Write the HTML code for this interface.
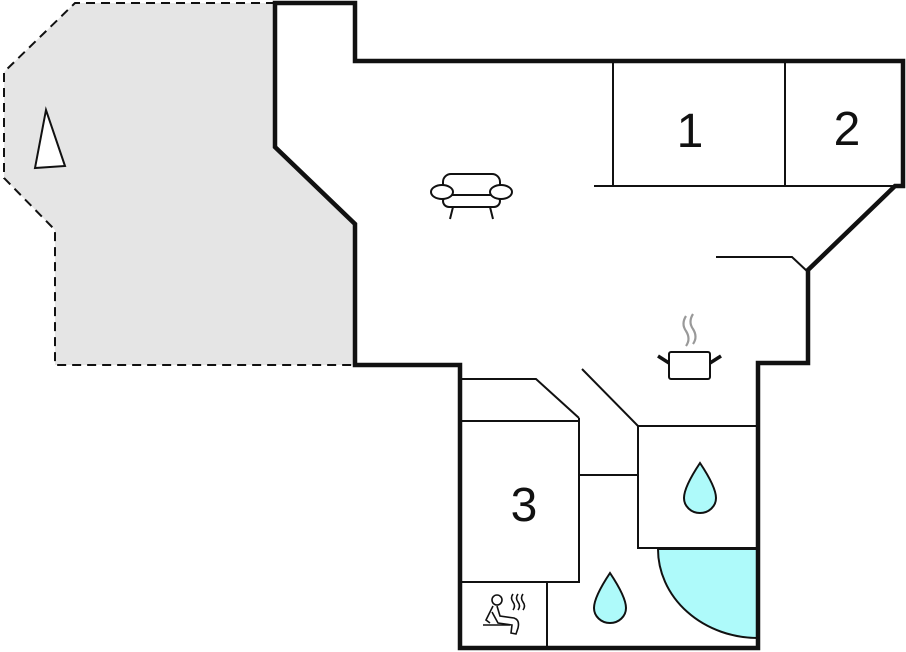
<!DOCTYPE html>
<html><head><meta charset="utf-8"><style>
html,body{margin:0;padding:0;background:#fff;}
svg{display:block;}
text{font-family:"Liberation Sans",sans-serif;fill:#111;}
</style></head><body>
<svg width="906" height="652" viewBox="0 0 906 652" xmlns="http://www.w3.org/2000/svg">
<polygon points="275,3 75,3 4,72 4,178 55,230 55,365 355,365 355,224 275,147" fill="#e5e5e5"/>
<polyline points="275,3 75,3 4,72 4,178 55,230 55,365 355,365" fill="none" stroke="#111" stroke-width="2" stroke-dasharray="9,6"/>
<polygon points="46,110 35,168 65,166" fill="#fff" stroke="#111" stroke-width="2"/>
<polygon points="275,3 355,3 355,61 903,61 903,186 895,186 808,270 808,363 758,363 758,648 460,648 460,365 355,365 355,224 275,147" fill="#fff"/>
<g stroke="#111" stroke-width="2" fill="none">
<line x1="613" y1="61" x2="613" y2="186"/>
<line x1="785" y1="61" x2="785" y2="186"/>
<line x1="594" y1="186" x2="903" y2="186"/>
<polyline points="716,257 792,257 808,272"/>
<polyline points="462,379 536,379 579,418"/>
<line x1="462" y1="421" x2="579" y2="421"/>
<polyline points="579,418 579,582 462,582"/>
<line x1="547" y1="582" x2="547" y2="648"/>
<line x1="579" y1="475" x2="638" y2="475"/>
<line x1="582" y1="369" x2="638" y2="426"/>
<polyline points="758,426 638,426 638,548 758,548"/>
</g>
<path d="M658,549 A100,89 0 0 0 758,638 L758,549 Z" fill="#aefafa" stroke="#111" stroke-width="2"/>
<polygon points="275,3 355,3 355,61 903,61 903,186 895,186 808,270 808,363 758,363 758,648 460,648 460,365 355,365 355,224 275,147" fill="none" stroke="#111" stroke-width="4.5" stroke-linejoin="miter"/>
<text x="690" y="147" font-size="48" text-anchor="middle">1</text>
<text x="847" y="145" font-size="48" text-anchor="middle">2</text>
<text x="524" y="521" font-size="48" text-anchor="middle">3</text>
<path d="M700,463 C690,478 684,490 684,498 A16,15 0 0 0 716,498 C716,490 710,478 700,463 Z" fill="#aefafa" stroke="#111" stroke-width="2"/>
<path d="M610,573 C600,588 594,600 594,608 A16,15 0 0 0 626,608 C626,600 620,588 610,573 Z" fill="#aefafa" stroke="#111" stroke-width="2"/>
<g stroke="#111" stroke-width="2" fill="#fff">
<rect x="443" y="174" width="57" height="22" rx="8"/>
<rect x="443" y="195" width="57" height="12" rx="6"/>
<ellipse cx="442" cy="192" rx="11" ry="7"/>
<ellipse cx="501" cy="192" rx="11" ry="7"/>
<line x1="453" y1="207" x2="450" y2="219"/>
<line x1="490" y1="207" x2="493" y2="219"/>
</g>
<g>
<path d="M686,316 q-5,8 0,15 q5,8 0,15 M693,314 q-5,8 0,15 q5,8 0,15" stroke="#999" stroke-width="2.2" fill="none"/>
<rect x="669" y="352" width="41" height="27" rx="2" fill="#fff" stroke="#111" stroke-width="2"/>
<line x1="658" y1="356" x2="669" y2="363" stroke="#111" stroke-width="3.5"/>
<line x1="721" y1="356" x2="710" y2="363" stroke="#111" stroke-width="3.5"/>
</g>
<g stroke="#111" stroke-width="1.6" fill="none">
<circle cx="497" cy="600" r="5"/>
<path d="M493,606 L486,620 L490,623 M497,606 L500,616 L514,618 Q520,620 518,628 L516,634 L511,633 L512,625 L498,623 L492,612"/>
<line x1="483" y1="625" x2="510" y2="625"/>
<path d="M513,594 q-3,4 0,8 q3,4 0,8 M518,594 q-3,4 0,8 q3,4 0,8 M523,594 q-3,4 0,8 q3,4 0,8"/>
</g>
</svg>
</body></html>
